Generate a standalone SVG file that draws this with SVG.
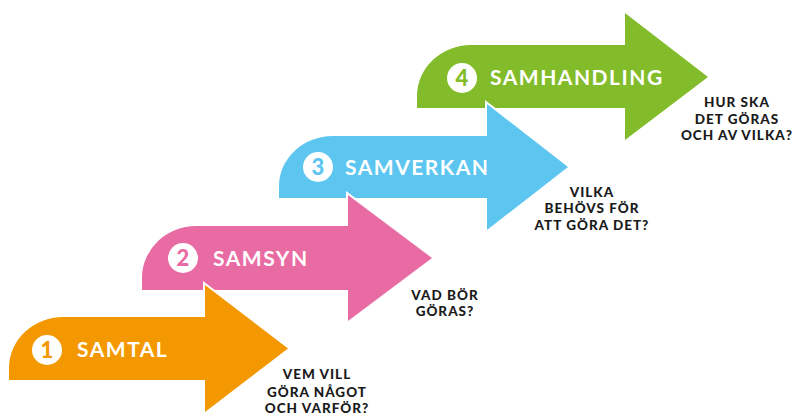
<svg xmlns="http://www.w3.org/2000/svg" width="795" height="416" viewBox="0 0 795 416">
<style>
.arrow{stroke:#fff;stroke-width:4;paint-order:stroke;stroke-linejoin:miter}
.title{font-family:Lato,"Open Sans",sans-serif;font-weight:700;font-size:21px;fill:#fff;letter-spacing:1.5px}
.num{font-family:Lato,"Open Sans",sans-serif;font-weight:900;font-size:22px;text-anchor:middle}
.q{font-family:Lato,"Open Sans",sans-serif;font-weight:900;font-size:13.5px;fill:#1a1a1a;text-anchor:middle;letter-spacing:1px}
</style>
<rect width="795" height="416" fill="#fff"/>
<g id="connectors"></g>
<g id="step4">
<path class="arrow" fill="#83BC2B" d="M417,108 V96 A54,51 0 0 1 471,45 H625 V13 L708,77 L625,140 V108 Z"/>
<circle cx="462" cy="78" r="15" fill="#fff"/>
<text class="num" x="462" y="86" fill="#83BC2B">4</text>
<text class="title" x="490" y="85">SAMHANDLING</text>
<text class="q" x="737" y="107">HUR SKA</text>
<text class="q" x="737" y="124">DET GÖRAS</text>
<text class="q" x="737" y="140">OCH AV VILKA?</text>
</g>
<g id="step3">
<path class="arrow" fill="#5CC6F1" d="M279,198 V186 A54,50 0 0 1 333,136 H487 V104 L568,167 L487,230 V198 Z"/>
<circle cx="318" cy="167" r="15" fill="#fff"/>
<text class="num" x="318" y="175" fill="#5CC6F1">3</text>
<text class="title" x="345" y="175">SAMVERKAN</text>
<text class="q" x="592" y="197">VILKA</text>
<text class="q" x="592" y="213">BEHÖVS FÖR</text>
<text class="q" x="592" y="230">ATT GÖRA DET?</text>
</g>
<g id="step2">
<path class="arrow" fill="#E96BA4" d="M142,290 V278 A54,52 0 0 1 196,226 H348 V195 L432,258 L348,321 V290 Z"/>
<circle cx="183" cy="258" r="15" fill="#fff"/>
<text class="num" x="183" y="266" fill="#E96BA4">2</text>
<text class="title" x="213" y="266">SAMSYN</text>
<text class="q" x="445" y="300">VAD BÖR</text>
<text class="q" x="445" y="316">GÖRAS?</text>
</g>
<g id="step1">
<path class="arrow" fill="#F39800" d="M9,380 V368 A54,51 0 0 1 63,317 H205 V285 L288,348.5 L205,412 V380 Z"/>
<circle cx="47" cy="350" r="15" fill="#fff"/>
<text class="num" x="47" y="358" fill="#F39800">1</text>
<text class="title" x="77" y="357">SAMTAL</text>
<text class="q" x="317" y="379">VEM VILL</text>
<text class="q" x="317" y="397">GÖRA NÅGOT</text>
<text class="q" x="317" y="413">OCH VARFÖR?</text>
</g>
</svg>
